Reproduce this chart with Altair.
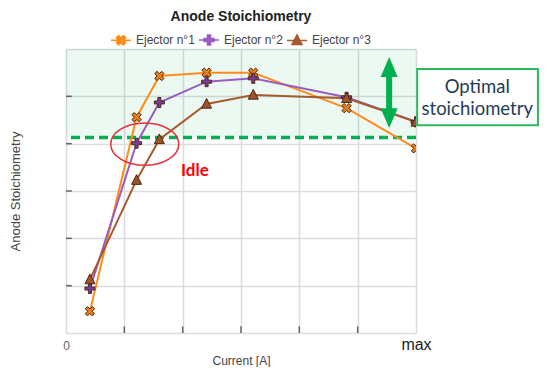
import math
import altair as alt
import pandas as pd

# ---------------- data ----------------
series = ["Ejector n°1", "Ejector n°2", "Ejector n°3"]
current = [0.41, 1.21, 1.60, 2.41, 3.21, 4.81, 6.0]
ej1 = [0.46, 4.56, 5.43, 5.50, 5.50, 4.75, 3.90]
ej2 = [0.94, 4.01, 4.87, 5.31, 5.38, 4.98, 4.46]
ej3 = [1.13, 3.23, 4.09, 4.84, 5.03, 4.96, 4.46]

x_ticks = [0, 1, 2, 3, 4, 5, 6]
y_ticks = [0, 1, 2, 3, 4, 5, 6]
inner_ticks = [1, 2, 3, 4, 5]
optimal_min = 4.13
optimal_max = 6.0
idle_center = (1.35, 3.99)
idle_label = (2.21, 3.42)
arrow_center = (5.54, 5.08)
box_x = (6.02, 8.09)
box_y = (4.39, 5.58)
box_text_pos = (7.05, 5.19)

line_colors = ["#ff8c1a", "#9b5cc0", "#a65a2e"]
marker_fills = ["#ec7f18", "#7b3a9c", "#a0522d"]

rows = []
for name, vals in zip(series, [ej1, ej2, ej3]):
    for c, v in zip(current, vals):
        rows.append({"series": name, "current": c, "stoich": v})
df = pd.DataFrame(rows)

# ---------------- symbol paths ----------------
def plus_pts(r, a):
    return [(-a, -r), (a, -r), (a, -a), (r, -a), (r, a), (a, a), (a, r),
            (-a, r), (-a, a), (-r, a), (-r, -a), (-a, -a)]

def rot45(pts):
    s = 1 / math.sqrt(2)
    return [((x - y) * s, (x + y) * s) for x, y in pts]

def to_path(pts):
    return "M" + "L".join(f"{x:.3f},{y:.3f}" for x, y in pts) + "Z"

x_path = to_path(rot45(plus_pts(1.0, 0.32)))
plus_path = to_path(plus_pts(1.0, 0.30))
tri_path = "M0,-1.1L1,0.85L-1,0.85Z"
marker_paths = [x_path, plus_path, tri_path]

leg_line = "M-1,0L1,0"
leg_paths = [
    leg_line + to_path(rot45(plus_pts(0.5, 0.16))),
    leg_line + to_path(plus_pts(0.5, 0.15)),
    leg_line + "M0,-0.55L0.5,0.42L-0.5,0.42Z",
]

ellipse_path = "M-1,0A1,0.62,0,1,1,1,0A1,0.62,0,1,1,-1,0Z"
arrow_path = ("M0,-1L0.24,-0.44L0.085,-0.44L0.085,0.44L0.24,0.44L0,1"
              "L-0.24,0.44L-0.085,0.44L-0.085,-0.44L-0.24,-0.44Z")

# ---------------- scales ----------------
xs = alt.Scale(domain=[0, 6], nice=False, zero=False)
ys = alt.Scale(domain=[0, 6], nice=False, zero=False)

x_axis = alt.Axis(
    values=x_ticks, grid=True, gridColor="#dcdcdc", gridWidth=1.5,
    ticks=False, domain=False, labelFlush=False,
    labelExpr="datum.value == 0 ? '0' : (datum.value == 6 ? 'max' : '')",
    labelFontSize={"condition": {"test": "datum.value == 6", "value": 16}, "value": 12},
    labelColor={"condition": {"test": "datum.value == 6", "value": "#222222"}, "value": "#666666"},
    labelBaseline="alphabetic", labelPadding=16, labelFont="Liberation Sans",
    title="Current [A]", titleFontSize=12, titleFontWeight="normal",
    titleColor="#444444", titleFont="Liberation Sans", titlePadding=3,
)
y_axis = alt.Axis(
    values=y_ticks, grid=True, gridColor="#dcdcdc", gridWidth=1.5,
    ticks=False, domain=False, labels=False,
    title="Anode Stoichiometry", titleFontSize=13, titleFontWeight="normal",
    titleColor="#444444", titleFont="Liberation Sans", titlePadding=44,
)

legend = alt.Legend(
    orient="none", legendX=44, legendY=-20, direction="horizontal",
    title=None, symbolSize=400, symbolStrokeWidth=1.5,
    labelFontSize=12, labelColor="#444444", labelFont="Liberation Sans",
    columnPadding=1, labelOffset=4,
)

# ---------------- layers ----------------
band = alt.Chart(pd.DataFrame([{"x": 0, "x2": 6, "y": optimal_min, "y2": optimal_max}])).mark_rect(
    fill="#00a050", opacity=0.075
).encode(
    x=alt.X("x:Q", scale=xs, axis=x_axis), x2="x2:Q",
    y=alt.Y("y:Q", scale=ys, axis=y_axis), y2="y2:Q",
)

xtick_rules = alt.Chart(pd.DataFrame({"t": inner_ticks, "y0": 0.0, "y1": 0.14})).mark_rule(
    color="#666666", strokeWidth=1.5
).encode(x=alt.X("t:Q", scale=xs), y=alt.Y("y0:Q", scale=ys), y2="y1:Q")

ytick_rules = alt.Chart(pd.DataFrame({"t": inner_ticks, "x0": 0.0, "x1": 0.1})).mark_rule(
    color="#666666", strokeWidth=1.5
).encode(y=alt.Y("t:Q", scale=ys), x=alt.X("x0:Q", scale=xs), x2="x1:Q")

dashed = alt.Chart(pd.DataFrame({"y": [optimal_min]})).mark_rule(
    color="#00b050", strokeWidth=3.5, strokeDash=[9, 5]
).encode(y=alt.Y("y:Q", scale=ys))

line_layers = []
for name, col in zip(series, line_colors):
    line_layers.append(
        alt.Chart(df).transform_filter(alt.datum.series == name).mark_line(
            strokeWidth=2, color=col, clip=True
        ).encode(x=alt.X("current:Q", scale=xs), y=alt.Y("stoich:Q", scale=ys))
    )

point_layers = []
for name, path, fill in zip(series, marker_paths, marker_fills):
    point_layers.append(
        alt.Chart(df).transform_filter(alt.datum.series == name).mark_point(
            shape=path, filled=True, fill=fill, size=100, stroke="#4a2a12",
            strokeWidth=1, opacity=1, clip=True
        ).encode(x=alt.X("current:Q", scale=xs), y=alt.Y("stoich:Q", scale=ys))
    )

# legend-only layer: draws nothing (all rows filtered), scales keep their explicit domains
legend_layer = alt.Chart(df).transform_filter("false").mark_point(
    size=400, strokeWidth=1.5, opacity=1
).encode(
    x=alt.X("current:Q", scale=xs),
    y=alt.Y("stoich:Q", scale=ys),
    shape=alt.Shape("series:N", scale=alt.Scale(domain=series, range=leg_paths), legend=legend),
    fill=alt.Fill("series:N", scale=alt.Scale(domain=series, range=line_colors), legend=legend),
    stroke=alt.Stroke("series:N", scale=alt.Scale(domain=series, range=line_colors), legend=legend),
)

ellipse = alt.Chart(pd.DataFrame([{"x": idle_center[0], "y": idle_center[1]}])).mark_point(
    shape=ellipse_path, size=4624, filled=False, stroke="#e8303a", strokeWidth=1.5, opacity=1
).encode(x=alt.X("x:Q", scale=xs), y=alt.Y("y:Q", scale=ys))

idle_text = alt.Chart(pd.DataFrame([{"x": idle_label[0], "y": idle_label[1], "t": "Idle"}])).mark_text(
    color="#ff0000", fontSize=17, fontWeight="bold", font="Lato", align="center", baseline="middle"
).encode(x=alt.X("x:Q", scale=xs), y=alt.Y("y:Q", scale=ys), text="t:N")

arrow = alt.Chart(pd.DataFrame([{"x": arrow_center[0], "y": arrow_center[1]}])).mark_point(
    shape=arrow_path, size=5041, filled=True, fill="#00b050", strokeWidth=0, opacity=1
).encode(x=alt.X("x:Q", scale=xs), y=alt.Y("y:Q", scale=ys))

box = alt.Chart(pd.DataFrame([{"x": box_x[0], "x2": box_x[1], "y": box_y[0], "y2": box_y[1]}])).mark_rect(
    fill="white", stroke="#2eb85c", strokeWidth=2, clip=False
).encode(x=alt.X("x:Q", scale=xs), x2="x2:Q", y=alt.Y("y:Q", scale=ys), y2="y2:Q")

box_text = alt.Chart(pd.DataFrame([{"x": box_text_pos[0], "y": box_text_pos[1], "t": "Optimal\nstoichiometry"}])).mark_text(
    color="#1f3b55", fontSize=18.5, font="Lato", align="center", baseline="middle",
    lineBreak="\n", lineHeight=22, clip=False
).encode(x=alt.X("x:Q", scale=xs), y=alt.Y("y:Q", scale=ys), text="t:N")

chart = alt.layer(
    band, xtick_rules, ytick_rules, dashed, *line_layers, *point_layers, legend_layer,
    ellipse, idle_text, arrow, box, box_text
).properties(
    width=350, height=284,
    autosize=alt.AutoSizeParams(type="none"),
    padding={"left": 58, "top": 41, "right": 130, "bottom": 34},
    title=alt.TitleParams("Anode Stoichiometry", fontSize=14, fontWeight="bold",
                          font="Liberation Sans", color="#222222", anchor="middle", offset=5),
).configure_view(stroke="#555555", strokeWidth=1.5).configure(background="white")

chart.save("out.html", embed_options={"renderer": "svg", "actions": False})
